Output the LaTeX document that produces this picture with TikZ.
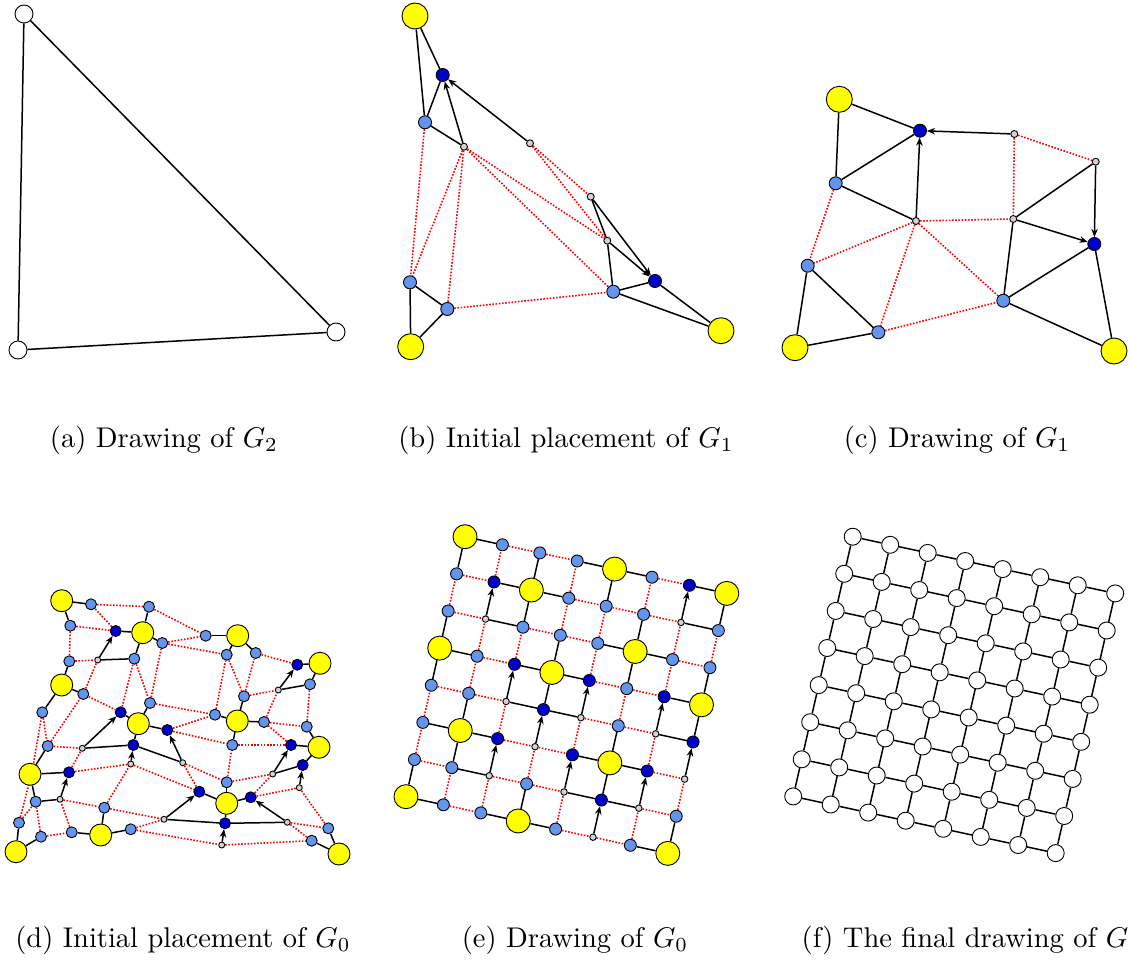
\documentclass[tikz,border=0pt]{standalone}
\usepackage{amsmath,amssymb}
\usepackage{tikz}
\usetikzlibrary{arrows.meta,backgrounds}

\definecolor{vyellow}{RGB}{255,255,0}
\definecolor{vlight}{RGB}{100,149,237}
\definecolor{vdark}{RGB}{0,0,205}
\definecolor{vgray}{RGB}{211,211,211}

\tikzset{
  vtx/.style={circle, draw=black, line width=0.9pt, inner sep=0pt},
  vW/.style={vtx, fill=white, minimum size=\wsz},
  vY/.style={vtx, fill=vyellow, minimum size=\ysz},
  vB/.style={vtx, fill=vlight, minimum size=\bsz},
  vD/.style={vtx, fill=vdark, minimum size=\dsz},
  vG/.style={vtx, fill=vgray, minimum size=\gsz},
  lnk-s/.style={draw=black, line width=1.5pt},
  lnk-r/.style={draw=red, line width=1.6pt, line cap=butt, dash pattern=on 1.6pt off 1.6pt},
  lnk-a/.style={draw=black, line width=1.5pt, -{Stealth[length=8pt,width=6.5pt,inset=2.5pt]}},
  captxt/.style={scale=2.85, inner sep=0pt}
}

\begin{document}
\begin{tikzpicture}[x=1pt, y=-1pt, line cap=round, line join=round]
  \useasboundingbox (0,0) rectangle (1130,960);

  % (a) G_2
  \begin{scope}
    \def\wsz{18pt}
    \node[vW] (a-top) at (24,14) {};
    \node[vW] (a-left) at (18,350) {};
    \node[vW] (a-right) at (336,332) {};
    \begin{scope}[on background layer]
      \draw[lnk-s] (a-top) -- (a-left) -- (a-right) -- (a-top);
    \end{scope}
  \end{scope}

  % (b) and (c) G_1
  \begin{scope}
    \def\ysz{26pt}\def\bsz{13pt}\def\dsz{13pt}\def\gsz{7pt}
    % placement
    \node[vY] (b-y1) at (415,16) {};
    \node[vD] (b-d1) at (442.7,75) {};
    \node[vB] (b-b1) at (425,122.3) {};
    \node[vG] (b-g1) at (464,146.7) {};
    \node[vG] (b-g2) at (530,143.3) {};
    \node[vG] (b-g3) at (590.7,196.7) {};
    \node[vG] (b-g4) at (607.3,240.7) {};
    \node[vD] (b-d2) at (655,281) {};
    \node[vB] (b-b2) at (613.3,291.7) {};
    \node[vY] (b-y2) at (721,330.7) {};
    \node[vB] (b-b3) at (410,282.3) {};
    \node[vB] (b-b4) at (447.3,309) {};
    \node[vY] (b-y3) at (410.7,346.7) {};
    % drawing
    \node[vY] (c-y1) at (839.3,99.3) {};
    \node[vD] (c-d1) at (920,130.7) {};
    \node[vG] (c-g2) at (1014.3,134) {};
    \node[vG] (c-g3) at (1095.7,161.7) {};
    \node[vB] (c-b1) at (835.7,183.3) {};
    \node[vG] (c-g1) at (916,221) {};
    \node[vG] (c-g4) at (1013.3,219) {};
    \node[vD] (c-d2) at (1094.3,244) {};
    \node[vB] (c-b3) at (807.7,265.7) {};
    \node[vB] (c-b2) at (1003.3,300.7) {};
    \node[vB] (c-b4) at (878.3,332.3) {};
    \node[vY] (c-y3) at (795,347.7) {};
    \node[vY] (c-y2) at (1114,351) {};
    \begin{scope}[on background layer]
      \foreach \p in {b,c} {
        \foreach \src/\dst in {y1/d1, y1/b1, b1/d1, b1/g1, g3/g4, b3/y3, b3/b4, y3/b4, g4/b2, b2/d2, b2/y2, d2/y2}
          \draw[lnk-s] (\p-\src) -- (\p-\dst);
        \foreach \src/\dst in {g1/d1, g2/d1, g3/d2, g4/d2}
          \draw[lnk-a] (\p-\src) -- (\p-\dst);
        \foreach \src/\dst in {g2/g3, g2/g4, g1/g4, b1/b3, g1/b3, g1/b4, g1/b2, b4/b2}
          \draw[lnk-r] (\p-\src) -- (\p-\dst);
      }
    \end{scope}
  \end{scope}

  % (d) initial placement of G_0
  \begin{scope}
    \def\ysz{22pt}\def\bsz{11pt}\def\dsz{11pt}\def\gsz{6pt}
    \foreach \ri/\row in {
      0/{Y/61.7/600.7, B/91/604.3, B/149/606.7, B/205.7/635.7, Y/237.7/635.7, B/255.7/653, D/297.3/664.7, Y/320/663.3},
      1/{B/70.3/625.7, D/115.7/631, Y/142.7/632.7, B/162.3/643, B/226.7/654.7, B/244/696.3, G/278.3/690, B/310/684.3},
      2/{B/69.3/661.3, G/97.7/660, B/134.3/658.7, B/150/703, B/215/714.7, Y/237.3/721, B/264/722, B/306.7/726.7},
      3/{Y/61.7/685, B/83.3/694, D/120.7/712.3, Y/138.3/723.7, D/167.3/730, B/232.3/745, D/291/745, Y/319/747.3},
      4/{B/42.3/712.3, B/47.7/746, G/82.3/748.3, D/133.3/745, G/182.7/762.7, B/226.7/782.3, G/272.7/774, D/302.7/765},
      5/{B/32/772, Y/30/774.3, D/69/772.3, G/130.7/764, D/199.3/791.7, Y/226.7/803.3, D/250.7/797.3, G/299.3/787.7},
      6/{B/19/822.7, B/35.7/801.7, G/60/799.3, B/104.3/807.7, G/164/819.3, D/225/823.3, G/287.3/822.3, B/328.3/828.3},
      7/{Y/16/851.7, B/41/836.7, B/71.7/832.3, Y/100.7/835, B/130.7/829.3, G/221.7/845, B/311.7/840.7, Y/339/854}} {
      \foreach \t/\x/\y [count=\ci from 0] in \row
        \node[v\t] (d-\ri-\ci) at (\x,\y) {};
    }
  \end{scope}

  % (e) drawing of G_0
  \begin{scope}
    \def\ysz{24pt}\def\bsz{12pt}\def\dsz{12pt}\def\gsz{6.5pt}
    \foreach \ri/\row in {0/{Y,B,B,B,Y,B,D,Y}, 1/{B,D,Y,B,B,B,G,B}, 2/{B,G,B,B,B,Y,B,B}, 3/{Y,B,D,Y,D,B,D,Y},
                          4/{B,B,G,D,G,B,G,D}, 5/{B,Y,D,G,D,Y,D,G}, 6/{B,B,G,B,G,D,G,B}, 7/{Y,B,B,Y,B,G,B,Y}} {
      \foreach \t [count=\ci from 0] in \row
        \node[v\t] (e-\ri-\ci) at ({465+37.4*\ci-8.43*\ri},{536.7+8.1*\ci+37.14*\ri}) {};
    }
  \end{scope}

  % edges of G_0, same in (d) and (e)
  \begin{scope}[on background layer]
    \foreach \p in {d,e} {
      \foreach \ri/\row in {0/{s,r,r,s,s,r,s}, 1/{r,s,s,r,r,r,s}, 2/{r,s,r,r,s,s,r}, 3/{s,r,s,s,r,r,s},
                            4/{r,r,s,s,r,r,s}, 5/{s,s,r,r,s,s,r}, 6/{r,s,r,r,s,s,r}, 7/{s,r,s,s,r,r,s}} {
        \foreach \t [count=\ci from 0] in \row {
          \pgfmathtruncatemacro{\cj}{\ci+1}
          \draw[lnk-\t] (\p-\ri-\ci) -- (\p-\ri-\cj);
        }
      }
      \foreach \ri/\row in {0/{s,r,s,r,s,r,a,s}, 1/{r,a,s,r,r,s,r,r}, 2/{s,r,r,s,r,s,r,s}, 3/{s,r,a,s,a,r,a,s},
                            4/{r,s,r,a,r,s,r,a}, 5/{r,s,a,r,a,s,a,r}, 6/{s,r,r,s,r,a,r,s}} {
        \pgfmathtruncatemacro{\rj}{\ri+1}
        \foreach \t [count=\ci from 0] in \row
          \draw[lnk-\t] (\p-\rj-\ci) -- (\p-\ri-\ci);
      }
    }
  \end{scope}

  % (f) final drawing of G
  \begin{scope}
    \def\wsz{17pt}
    \foreach \ri in {0,...,7}
      \foreach \ci in {0,...,7}
        \node[vW] (f-\ri-\ci) at ({852.7+37.5*\ci-8.5*\ri},{536.7+8.1*\ci+37.1*\ri}) {};
    \begin{scope}[on background layer]
      \foreach \ri in {0,...,7}
        \foreach \ci [count=\cj] in {0,...,6}
          \draw[lnk-s] (f-\ri-\ci) -- (f-\ri-\cj);
      \foreach \ri [count=\rj] in {0,...,6}
        \foreach \ci in {0,...,7}
          \draw[lnk-s] (f-\rj-\ci) -- (f-\ri-\ci);
    \end{scope}
  \end{scope}

  % captions
  \node[captxt] (cap-a) at (164,440) {(a) Drawing of $G_2$};
  \node[captxt] (cap-b) at (566,440) {(b) Initial placement of $G_1$};
  \node[captxt] (cap-c) at (957,440) {(c) Drawing of $G_1$};
  \node[captxt] (cap-d) at (183,940) {(d) Initial placement of $G_0$};
  \node[captxt] (cap-e) at (575,940) {(e) Drawing of $G_0$};
  \node[captxt] (cap-f) at (965,940) {(f) The final drawing of $G$};
\end{tikzpicture}
\end{document}
